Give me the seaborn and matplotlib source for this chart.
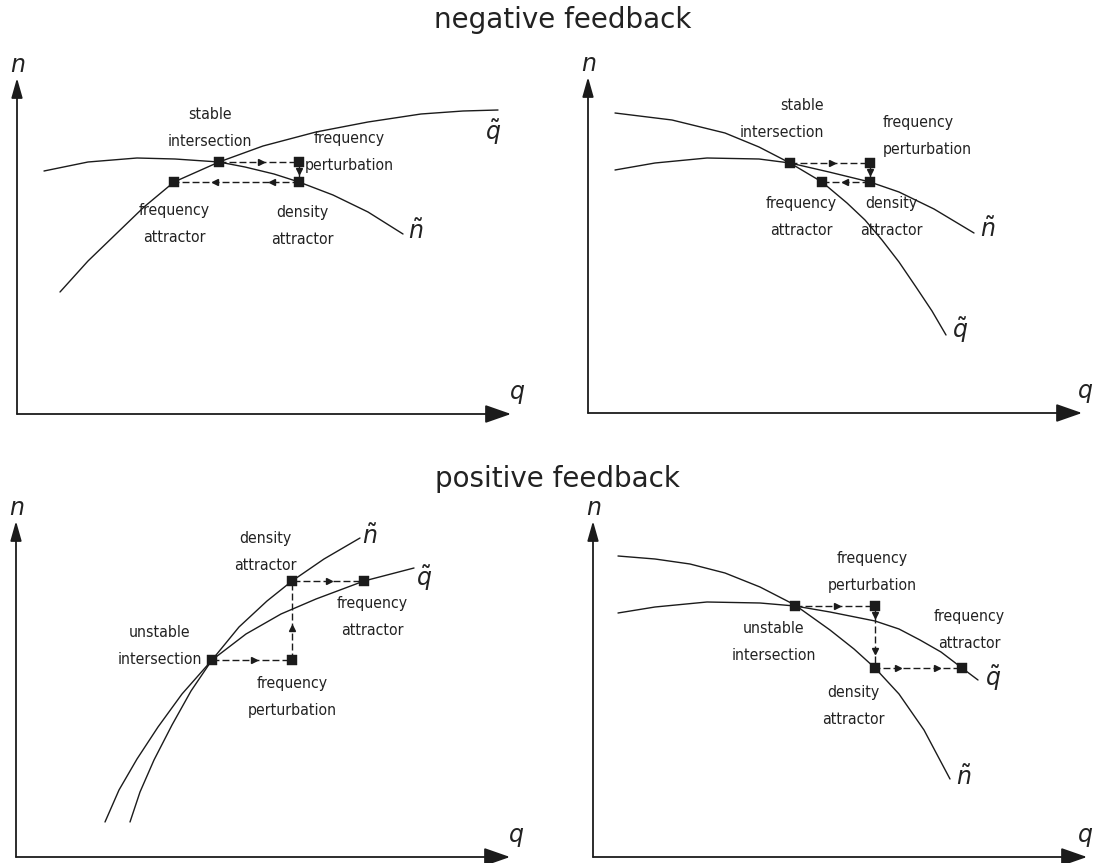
import matplotlib
matplotlib.use("Agg")
import matplotlib.pyplot as plt
import seaborn as sns
from matplotlib import font_manager as fm
from matplotlib.font_manager import FontProperties

# ---------------- data ----------------
titles = ["negative feedback", "positive feedback"]
axis_labels = ["$q$", "$n$"]
curve_names = [r"$\tilde{n}$", r"$\tilde{q}$"]

# Panel A: negative feedback, left
a_ntilde_q = [27, 71, 120, 158, 202, 228, 257, 282, 316, 351, 386]
a_ntilde_n = [243, 252, 256, 255, 252, 247, 240, 232, 219, 202, 180]
a_qtilde_q = [43, 71, 99, 127, 157, 202, 246, 299, 351, 404, 446, 481]
a_qtilde_n = [122, 153, 180, 207, 232, 252, 268, 282, 292, 300, 303, 304]
a_points_q = [202, 282, 282, 157]
a_points_n = [252, 252, 232, 232]
a_point_names = ["stable\nintersection", "frequency\nperturbation",
                 "density\nattractor", "frequency\nattractor"]

# Panel B: negative feedback, right
b_ntilde_q = [27, 67, 119, 171, 202, 241, 282, 311, 346, 386]
b_ntilde_n = [243, 250, 255, 254, 250, 241, 231, 221, 204, 180]
b_qtilde_q = [27, 84, 137, 171, 202, 234, 259, 277, 294, 311, 328, 344, 358]
b_qtilde_n = [300, 293, 280, 266, 250, 231, 210, 193, 173, 151, 126, 102, 78]
b_points_q = [202, 282, 282, 234]
b_points_n = [250, 250, 231, 231]
b_point_names = ["stable\nintersection", "frequency\nperturbation",
                 "density\nattractor", "frequency\nattractor"]

# Panel C: positive feedback, left
c_ntilde_q = [114, 124, 138, 156, 175, 196, 223, 251, 276, 308, 344]
c_ntilde_n = [35, 65, 97, 132, 166, 197, 230, 256, 276, 298, 319]
c_qtilde_q = [89, 103, 121, 142, 166, 196, 230, 265, 300, 348, 398]
c_qtilde_n = [35, 67, 98, 130, 163, 197, 223, 243, 258, 276, 289]
c_points_q = [196, 276, 276, 348]
c_points_n = [197, 197, 276, 276]
c_point_names = ["unstable\nintersection", "frequency\nperturbation",
                 "density\nattractor", "frequency\nattractor"]

# Panel D: positive feedback, right
d_ntilde_q = [25, 62, 97, 132, 167, 202, 237, 261, 282, 306, 331, 357]
d_ntilde_n = [301, 298, 293, 284, 270, 252, 227, 208, 189, 163, 127, 78]
d_qtilde_q = [25, 62, 114, 167, 202, 237, 282, 306, 327, 348, 369, 385]
d_qtilde_n = [244, 250, 255, 254, 251, 245, 236, 228, 217, 205, 189, 177]
d_points_q = [202, 282, 282, 369]
d_points_n = [251, 251, 189, 189]
d_point_names = ["unstable\nintersection", "frequency\nperturbation",
                 "density\nattractor", "frequency\nattractor"]

# ---------------- layout ----------------
W, H = 1097, 863
AX_Q, AX_N = 494, 336

panels = [
    dict(origin=(17, 414), ntq=a_ntilde_q, ntn=a_ntilde_n, qtq=a_qtilde_q, qtn=a_qtilde_n,
         pq=a_points_q, pn=a_points_n, names=a_point_names, qlab=500,
         anchors=[(193, 288, "center"), (332, 264, "center"), (285, 190, "center"), (157, 192, "center")],
         clabels=[(399, 182), (476, 282)],
         heads=[(0, 0.52), (1, 0.45), (2, 0.22), (2, 0.67)]),
    dict(origin=(588, 413), ntq=b_ntilde_q, ntn=b_ntilde_n, qtq=b_qtilde_q, qtn=b_qtilde_n,
         pq=b_points_q, pn=b_points_n, names=b_point_names, qlab=497,
         anchors=[(236, 296, "right"), (295, 279, "left"), (303, 198, "center"), (213, 198, "center")],
         clabels=[(400, 183), (372, 83)],
         heads=[(0, 0.53), (1, 0.45), (2, 0.52)]),
    dict(origin=(16, 857), ntq=c_ntilde_q, ntn=c_ntilde_n, qtq=c_qtilde_q, qtn=c_qtilde_n,
         pq=c_points_q, pn=c_points_n, names=c_point_names, qlab=500,
         anchors=[(144, 213, "center"), (276, 162, "center"), (249, 307, "center"), (356, 242, "center")],
         clabels=[(354, 320), (408, 279)],
         heads=[(0, 0.53), (1, 0.41), (2, 0.52)]),
    dict(origin=(593, 857), ntq=d_ntilde_q, ntn=d_ntilde_n, qtq=d_qtilde_q, qtn=d_qtilde_n,
         pq=d_points_q, pn=d_points_n, names=d_point_names, qlab=492,
         anchors=[(181, 217, "center"), (279, 287, "center"), (260, 153, "center"), (376, 229, "center")],
         clabels=[(371, 79), (400, 179)],
         heads=[(0, 0.53), (1, 0.15), (1, 0.72), (2, 0.26), (2, 0.71)]),
]
title_pos = [(563, 28), (557, 487)]

# ---------------- style ----------------
sns.set_theme(style="white")
plt.rcParams["font.family"] = ["DejaVu Sans"]
plt.rcParams["mathtext.fontset"] = "dejavusans"


def pick_label_font():
    """Prefer a narrow / condensed sans for the point annotations."""
    fonts = [f for f in fm.fontManager.ttflist
             if f.style == "normal" and f.weight in (400, "normal", "regular")]
    prefs = [
        lambda f: f.name == "Liberation Sans Narrow",
        lambda f: f.name == "DejaVu Sans" and "condensed" in str(f.stretch),
        lambda f: f.name == "DejaVu Sans Condensed",
        lambda f: "Roboto Condensed" in f.name,
        lambda f: f.name.startswith("Noto Sans") and ("ondensed" in f.fname or "condensed" in str(f.stretch))
                  and "CJK" not in f.name,
        lambda f: f.name.startswith("Open Sans") and ("ondensed" in f.fname or "condensed" in str(f.stretch)),
        lambda f: f.name == "Roboto",
    ]
    for test in prefs:
        for f in fonts:
            try:
                if test(f):
                    return f.fname
            except Exception:
                pass
    return None


label_path = pick_label_font()
fig = plt.figure(figsize=(W / 100, H / 100), dpi=100)
fig.patch.set_facecolor("white")

# size the annotation font so that "intersection" is about as wide as in the reference
renderer = fig.canvas.get_renderer()
probe_prop = FontProperties(fname=label_path, size=10) if label_path else FontProperties(family="DejaVu Sans", size=10)
probe = fig.text(0, 0, "intersection", fontproperties=probe_prop)
wpx = probe.get_window_extent(renderer).width
probe.remove()
label_size = min(14.5, 10 * 84.0 / max(wpx, 1))
LABEL_PROP = probe_prop.copy()
LABEL_PROP.set_size(label_size)

INK = "#1b1b1b"
TXT = "#222222"


def make_ax(ox, oy):
    left, right, top, bottom = ox - 20, ox + 530, oy - 385, oy + 6
    ax = fig.add_axes([left / W, 1 - bottom / H, (right - left) / W, (bottom - top) / H])
    ax.set_xlim(-20, 530)
    ax.set_ylim(-6, 385)
    ax.axis("off")
    return ax


for p in panels:
    ax = make_ax(*p["origin"])
    # coordinate axes with arrow heads
    ax.annotate("", xy=(AX_Q, 0), xytext=(0, 0),
                arrowprops=dict(arrowstyle="-|>,head_length=0.8,head_width=0.28",
                                mutation_scale=20, lw=1.3, color=INK, shrinkA=0, shrinkB=0))
    ax.annotate("", xy=(0, AX_N), xytext=(0, 0),
                arrowprops=dict(arrowstyle="-|>,head_length=0.6,head_width=0.17",
                                mutation_scale=20, lw=1.3, color=INK, shrinkA=0, shrinkB=0))
    ax.text(p["qlab"], 20, axis_labels[0], fontsize=17, ha="center", va="center", color=TXT)
    ax.text(1, 349, axis_labels[1], fontsize=17, ha="center", va="center", color=TXT)

    # the two isoclines
    sns.lineplot(x=p["ntq"], y=p["ntn"], sort=False, estimator=None, ax=ax,
                 color=INK, lw=1.0)
    sns.lineplot(x=p["qtq"], y=p["qtn"], sort=False, estimator=None, ax=ax,
                 color=INK, lw=1.0)
    for (lx, ly), name in zip(p["clabels"], curve_names):
        ax.text(lx, ly, name, fontsize=17, ha="center", va="center", color=TXT)

    # dashed trajectory through the four points
    sns.lineplot(x=p["pq"], y=p["pn"], sort=False, estimator=None, ax=ax,
                 color=INK, lw=1.0, linestyle=(0, (5, 2.2)))
    for seg, frac in p["heads"]:
        x0, y0 = p["pq"][seg], p["pn"][seg]
        x1, y1 = p["pq"][seg + 1], p["pn"][seg + 1]
        if abs(x1 - x0) > abs(y1 - y0):
            mk = ">" if x1 > x0 else "<"
        else:
            mk = "^" if y1 > y0 else "v"
        ax.plot([x0 + frac * (x1 - x0)], [y0 + frac * (y1 - y0)], marker=mk,
                ms=4.5, color=INK, ls="none", zorder=4)

    sns.scatterplot(x=p["pq"], y=p["pn"], marker="s", s=50, color=INK,
                    edgecolor=INK, linewidth=0.3, ax=ax, zorder=5)

    # point annotations
    for (tx, ty, ha), name in zip(p["anchors"], p["names"]):
        lines = name.split("\n")
        ax.text(tx, ty + 7, lines[0], fontproperties=LABEL_PROP,
                ha=ha, va="baseline", color=TXT)
        ax.text(tx, ty - 20, lines[1], fontproperties=LABEL_PROP,
                ha=ha, va="baseline", color=TXT)

for (tx, ty), t in zip(title_pos, titles):
    fig.text(tx / W, 1 - ty / H, t, fontsize=20, ha="center", va="baseline",
             color=TXT, family="DejaVu Sans")

fig.savefig("out.png", dpi=100, facecolor="white")
